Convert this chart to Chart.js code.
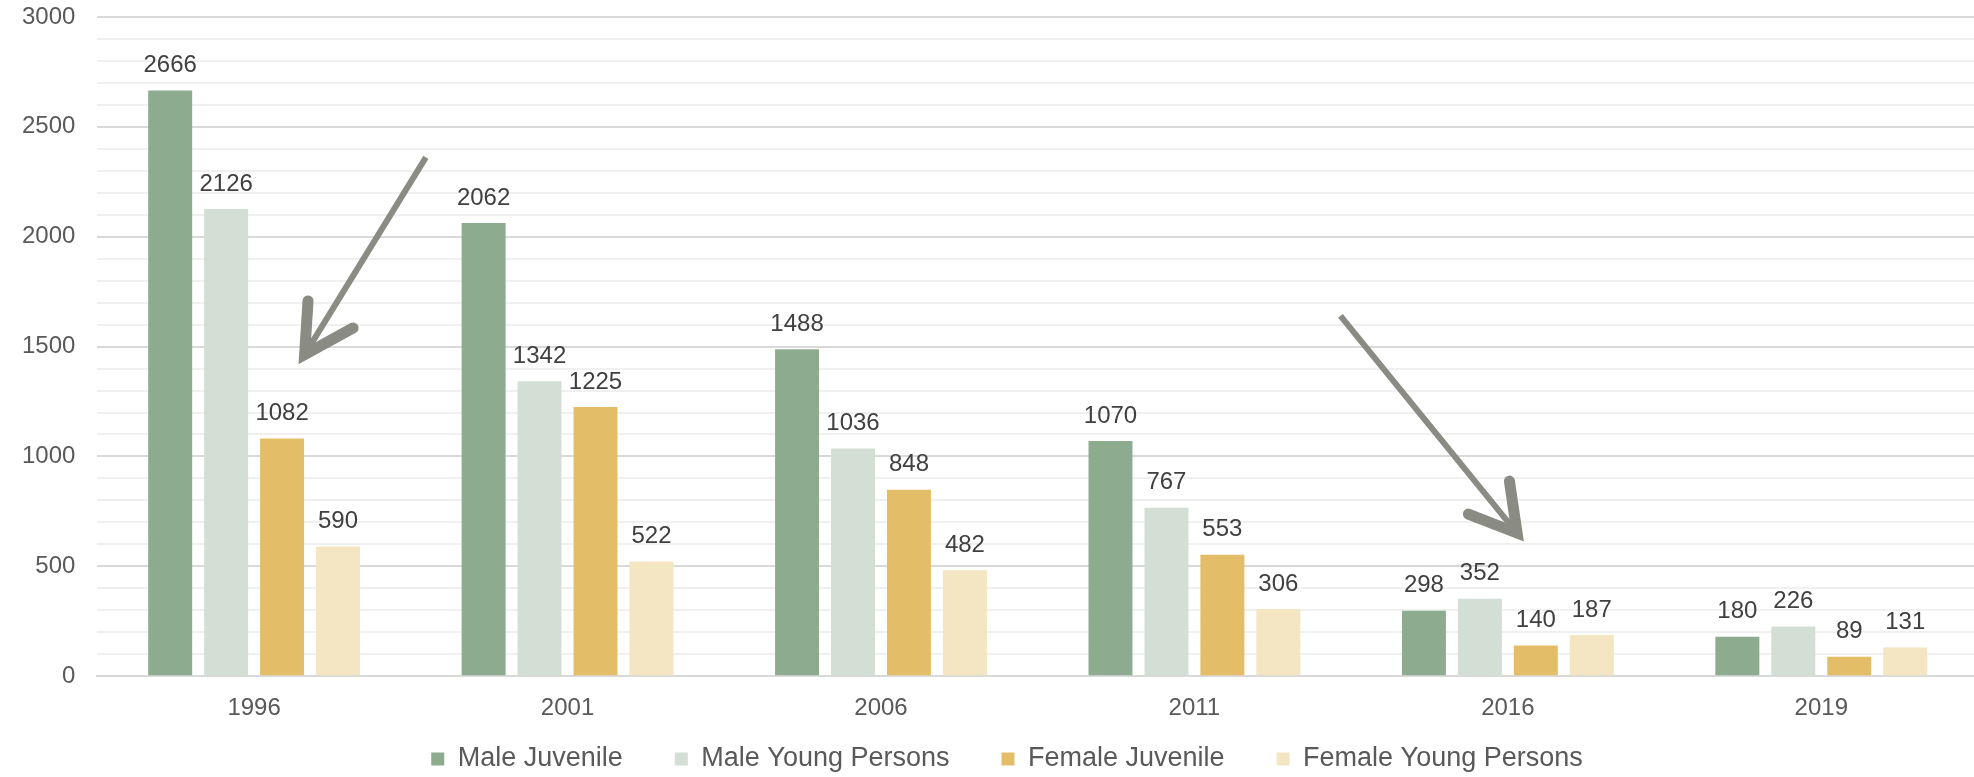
<!DOCTYPE html>
<html>
<head>
<meta charset="utf-8">
<script src="https://cdn.jsdelivr.net/npm/chart.js@4"></script>
<style>
    html, body { margin: 0; padding: 0; background: #fff; overflow: hidden; }
    #wrap { width: 1978px; height: 777px; }
</style>
</head>
<body>
<div id="wrap"><canvas id="offendersChart"></canvas></div>
<script>
// data
const years = ['1996', '2001', '2006', '2011', '2016', '2019'];
const seriesNames = ['Male Juvenile', 'Male Young Persons', 'Female Juvenile', 'Female Young Persons'];
const maleJuvenile = [2666, 2062, 1488, 1070, 298, 180];
const maleYoungPersons = [2126, 1342, 1036, 767, 352, 226];
const femaleJuvenile = [1082, 1225, 848, 553, 140, 89];
const femaleYoungPersons = [590, 522, 482, 306, 187, 131];
const yTicks = [0, 500, 1000, 1500, 2000, 2500, 3000];

const colors = ['#8dab8e', '#d3ded5', '#e4bd68', '#f4e5c3'];
const fontFamily = '"Liberation Sans", Arial, sans-serif';
const legendPad = 52;
const legendFont = 27;

// value labels above each bar
const valueLabels = {
    id: 'valueLabels',
    afterDatasetsDraw(chart) {
        const ctx = chart.ctx;
        ctx.save();
        ctx.font = '24px ' + fontFamily;
        ctx.fillStyle = '#404040';
        ctx.textAlign = 'center';
        ctx.textBaseline = 'middle';
        chart.data.datasets.forEach((ds, i) => {
            chart.getDatasetMeta(i).data.forEach((bar, j) => {
                ctx.fillText(ds.data[j], bar.x, bar.y - 25);
            });
        });
        ctx.restore();
    }
};

// the two grey arrows (placed in category / value units)
const arrows = [
    { from: [0.548, 2361], tip: [0.143, 1421], arms: [[0.172, 1708], [0.316, 1585]] },
    { from: [3.466, 1640], tip: [4.056, 605], arms: [[4.005, 888], [3.874, 738]] }
];

const arrowPlugin = {
    id: 'arrows',
    afterDatasetsDraw(chart) {
        const ctx = chart.ctx;
        const x = chart.scales.x, y = chart.scales.y;
        const pt = p => [x.getPixelForValue(p[0]), y.getPixelForValue(p[1])];
        ctx.save();
        ctx.strokeStyle = '#8a8b83';
        arrows.forEach(a => {
            const f = pt(a.from), t = pt(a.tip);
            const a1 = pt(a.arms[0]), a2 = pt(a.arms[1]);
            // shaft
            ctx.lineWidth = 6;
            ctx.lineCap = 'butt';
            ctx.beginPath();
            ctx.moveTo(f[0], f[1]);
            ctx.lineTo(t[0] + (f[0] - t[0]) * 0.08, t[1] + (f[1] - t[1]) * 0.08);
            ctx.stroke();
            // head
            const inner = [t[0] + (f[0] - t[0]) * 0.045, t[1] + (f[1] - t[1]) * 0.045];
            ctx.lineWidth = 11;
            ctx.lineCap = 'round';
            ctx.lineJoin = 'miter';
            ctx.miterLimit = 10;
            ctx.beginPath();
            ctx.moveTo(a1[0], a1[1]);
            ctx.lineTo(inner[0], inner[1]);
            ctx.lineTo(a2[0], a2[1]);
            ctx.stroke();
        });
        ctx.restore();
    }
};

// keep wide gaps between legend items without a tall legend box
const legendSpacing = {
    id: 'legendSpacing',
    beforeInit(chart) {
        const fit = chart.legend.fit;
        chart.legend.fit = function () {
            fit.call(this);
            this.height = 36;
        };
    },
    afterLayout(chart) {
        const lg = chart.legend;
        lg.top = chart.height - 18 - legendPad - legendFont / 2;
        lg.bottom = chart.height;
        lg.height = lg.bottom - lg.top;
        lg.left += 18;
        lg.right += 18;
    }
};

const seriesData = [maleJuvenile, maleYoungPersons, femaleJuvenile, femaleYoungPersons];

new Chart(document.getElementById('offendersChart'), {
    type: 'bar',
    data: {
        labels: years,
        datasets: seriesNames.map((name, i) => ({
            label: name,
            data: seriesData[i],
            backgroundColor: colors[i],
            borderWidth: 0,
            categoryPercentage: 0.714,
            barPercentage: 0.786
        }))
    },
    options: {
        responsive: true,
        maintainAspectRatio: false,
        animation: false,
        layout: { padding: { top: 17, left: 0, right: 0, bottom: 0 } },
        plugins: {
            legend: {
                position: 'bottom',
                labels: {
                    font: { family: fontFamily, size: legendFont },
                    color: '#595959',
                    boxWidth: 13,
                    boxHeight: 13,
                    padding: legendPad
                }
            },
            tooltip: { enabled: false }
        },
        scales: {
            x: {
                grid: { display: false, drawTicks: false },
                border: { color: '#d9d9d9', width: 2 },
                ticks: {
                    font: { family: fontFamily, size: 24 },
                    color: '#595959',
                    padding: 18
                }
            },
            y: {
                min: 0,
                max: 3000,
                border: { display: false },
                grid: {
                    drawTicks: false,
                    color: c => (c.tick.value % 500 === 0 ? '#d9d9d9' : '#f0f0f0'),
                    lineWidth: 2
                },
                ticks: {
                    stepSize: 100,
                    autoSkip: false,
                    font: { family: fontFamily, size: 24 },
                    color: '#595959',
                    padding: 22,
                    callback: v => (yTicks.includes(v) ? v : '')
                },
                afterFit: scale => {
                    // let the top label hang into the page margin
                    scale.paddingTop = 0;
                }
            }
        }
    },
    plugins: [valueLabels, arrowPlugin, legendSpacing]
});
</script>
</body>
</html>
